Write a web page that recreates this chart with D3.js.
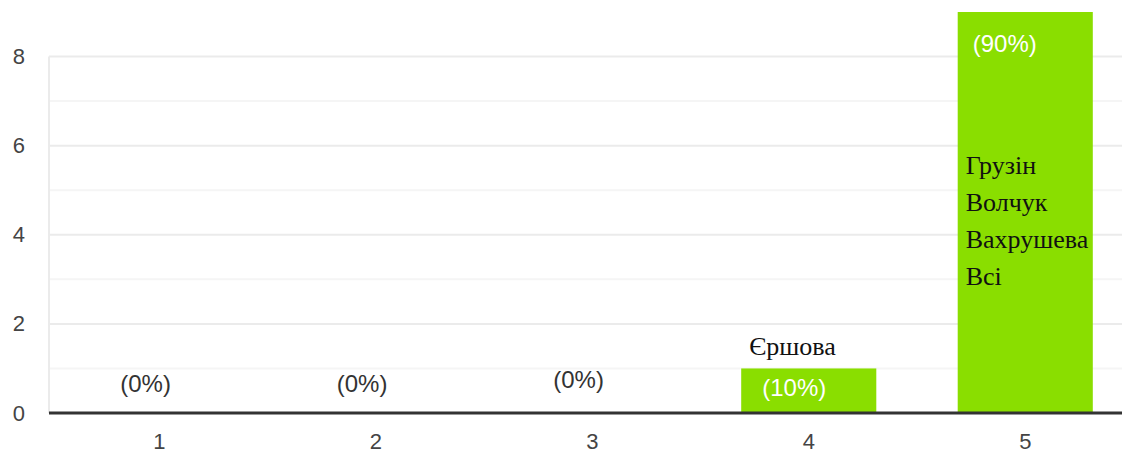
<!DOCTYPE html>
<html>
<head>
<meta charset="utf-8">
<script src="https://cdn.jsdelivr.net/npm/d3@7"></script>
<style>
  body { margin: 0; background: #fff; }
  svg { display: block; }
</style>
</head>
<body>
<div id="chart"></div>
<script>
// chart values
const categories = ['1', '2', '3', '4', '5'];
const counts = [0, 0, 0, 1, 9];
const percentLabels = ['(0%)', '(0%)', '(0%)', '(10%)', '(90%)'];
const names = [[], [], [], ['Єршова'], ['Грузін', 'Волчук', 'Вахрушева', 'Всі']];
const yTicks = [0, 2, 4, 6, 8];
const yMinorTicks = [1, 3, 5, 7];

const width = 1122;
const height = 450;
const margin = { top: 12, bottom: 37, left: 49 };

const svg = d3.select('#chart')
  .append('svg')
  .attr('width', width)
  .attr('height', height);

const xScale = d3.scaleBand()
  .domain(categories)
  .range([51, 51 + 5 * 216.5])
  .paddingInner(0.376)
  .paddingOuter(0.188);

const yScale = d3.scaleLinear()
  .domain([0, 9])
  .range([height - margin.bottom, margin.top]);

const sans = '"Liberation Sans", Arial, sans-serif';

// minor gridlines
svg.append('g')
  .selectAll('line')
  .data(yMinorTicks)
  .join('line')
  .attr('x1', margin.left)
  .attr('x2', width)
  .attr('y1', d => yScale(d))
  .attr('y2', d => yScale(d))
  .attr('stroke', '#f5f5f5')
  .attr('stroke-width', 2);

// major gridlines
svg.append('g')
  .selectAll('line')
  .data(yTicks.filter(d => d > 0))
  .join('line')
  .attr('x1', margin.left)
  .attr('x2', width)
  .attr('y1', d => yScale(d))
  .attr('y2', d => yScale(d))
  .attr('stroke', '#ebebeb')
  .attr('stroke-width', 2);

// left border
svg.append('line')
  .attr('x1', margin.left)
  .attr('x2', margin.left)
  .attr('y1', yScale(8))
  .attr('y2', yScale(0))
  .attr('stroke', '#ebebeb')
  .attr('stroke-width', 2);

// y tick labels
svg.append('g')
  .attr('transform', `translate(${margin.left - 24},0)`)
  .call(d3.axisLeft(yScale).tickValues(yTicks).tickSize(0).tickPadding(0))
  .call(g => g.select('.domain').remove())
  .selectAll('text')
  .attr('fill', '#444')
  .style('font-family', sans)
  .style('font-size', '22px');

// bars
svg.append('g')
  .selectAll('rect')
  .data(counts)
  .join('rect')
  .attr('x', (d, i) => xScale(categories[i]))
  .attr('y', d => yScale(d))
  .attr('width', xScale.bandwidth())
  .attr('height', d => yScale(0) - yScale(d))
  .attr('fill', '#8ade00');

// x axis
svg.append('g')
  .attr('transform', `translate(0,${yScale(0)})`)
  .call(d3.axisBottom(xScale).tickSize(0).tickPadding(20))
  .call(g => g.select('.domain').remove())
  .selectAll('text')
  .attr('fill', '#444')
  .style('font-family', sans)
  .style('font-size', '22px');

svg.append('line')
  .attr('x1', margin.left)
  .attr('x2', width)
  .attr('y1', yScale(0))
  .attr('y2', yScale(0))
  .attr('stroke', '#333')
  .attr('stroke-width', 3);

// percent labels
svg.append('g')
  .selectAll('text')
  .data(counts)
  .join('text')
  .attr('x', (d, i) => {
    const left = xScale(categories[i]);
    if (d > 1) return left + 15;
    if (d > 0) return left + 21;
    return left + xScale.bandwidth() / 2 - 39;
  })
  .attr('y', (d, i) => {
    if (d > 1) return yScale(d) + 40;
    if (d > 0) return yScale(0) - 17;
    return yScale(0) - (i === 2 ? 25 : 21);
  })
  .attr('fill', d => d > 0 ? '#fff' : '#333')
  .style('font-family', sans)
  .style('font-size', '24px')
  .text((d, i) => percentLabels[i]);

// respondent names
names.forEach((list, i) => {
  if (!list.length) return;
  const top = counts[i] > 1 ? yScale(counts[i]) + 162 : yScale(counts[i]) - 13;
  svg.append('g')
    .selectAll('text')
    .data(list)
    .join('text')
    .attr('x', xScale(categories[i]) + 8)
    .attr('y', (d, j) => top + j * 37)
    .attr('fill', '#111')
    .style('font-family', '"Liberation Serif", "Times New Roman", serif')
    .style('font-size', '26px')
    .text(d => d);
});
</script>
</body>
</html>
